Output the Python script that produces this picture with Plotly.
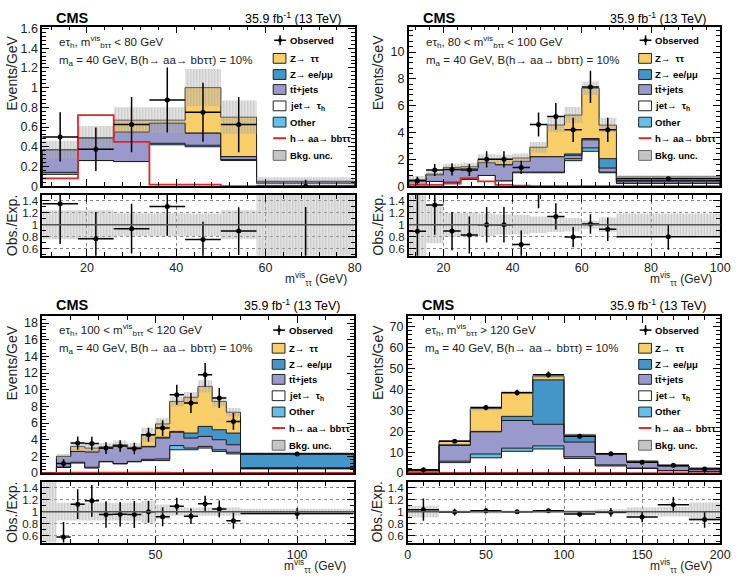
import plotly.graph_objects as go

W, H = 743, 579
FONT = "Liberation Sans, Arial, Helvetica, sans-serif"

C_ZTT, C_ZEE, C_TT, C_JET, C_OTH = "#F8CE68", "#4496C8", "#9999CC", "#FFFFFF", "#64C0E8"
C_SIG = "#E0262B"

# ---------------- Panel 1: m_btt^vis < 80 GeV ----------------
p1_edges = [10, 18, 26, 34, 42, 50, 58, 80]
p1_jet = [0.12, 0.26, 0.25, 0.42, 0.40, 0.26, 0.03]
p1_other = [0.02, 0.0, 0.0, 0.015, 0.015, 0.01, 0.0]
p1_tt = [0.23, 0.23, 0.30, 0.205, 0.125, 0.03, 0.015]
p1_zee = [0, 0, 0, 0, 0, 0, 0]
p1_ztt = [0, 0, 0.12, 0.03, 0.46, 0.40, 0.005]
p1_unc = [0.09, 0.12, 0.13, 0.13, 0.19, 0.17, 0.04]
p1_sig = [0.08, 0.72, 0.45, 0.015, 0.015, 0.0, 0.0]
p1_obs = [0.5, 0.375, 0.625, 0.875, 0.75, 0.625, 0.0]
p1_err = [0.25, 0.22, 0.28, 0.33, 0.30, 0.28, 0.065]

# ---------------- Panel 2: 80 < m_btt^vis < 100 GeV ----------------
p2_edges = [10, 15, 20, 25, 30, 35, 40, 45, 50, 55, 60, 65, 70, 100]
p2_jet = [0.12, 0.35, 0.3, 0.5, 0.8, 0.4, 1.0, 1.0, 1.0, 1.9, 2.6, 1.0, 0.2]
p2_other = [0, 0, 0, 0, 0, 0, 0.05, 0.05, 0.05, 0.15, 0.25, 0.05, 0.02]
p2_tt = [0.33, 0.5, 0.95, 0.82, 0.95, 1.2, 0.8, 1.15, 1.15, 0.25, 0.6, 0.3, 0.15]
p2_zee = [0, 0, 0, 0, 0, 0, 0, 0, 0, 0.1, 0.1, 0.7, 0.05]
p2_ztt = [0, 0.05, 0.15, 0.13, 0.25, 0.4, 0.25, 0.7, 2.36, 2.9, 3.75, 2.5, 0.27]
p2_unc = [0.3, 0.28, 0.28, 0.29, 0.38, 0.34, 0.34, 0.4, 0.55, 0.6, 0.5, 0.55, 0.13]
p2_sig = [0.1, 0.1, 0.2, 0.6, 0.35, 0.1, 0.03, 0, 0, 0, 0, 0, 0]
p2_obs = [0.4, 1.2, 1.25, 1.2, 2.0, 2.0, 1.4, 4.6, 5.2, 4.2, 7.4, 4.2, 0.55]
p2_err = [0.3, 0.45, 0.45, 0.45, 0.6, 0.6, 0.5, 0.9, 1.0, 0.9, 1.2, 0.9, 0.15]

# ---------------- Panel 3: 100 < m_btt^vis < 120 GeV ----------------
p3_edges = [10, 15, 20, 25, 30, 35, 40, 45, 50, 55, 60, 65, 70, 75, 80, 120]
p3_jet = [0, 0.67, 1.2, 0.6, 1.35, 1.1, 1.35, 1.5, 1.5, 2.8, 2.8, 3.0, 2.6, 2.3, 0.5]
p3_other = [0, 0.05, 0.1, 0.1, 0.05, 0.05, 0.05, 0.15, 0.2, 0.5, 0.2, 0.2, 0.2, 0.2, 0.05]
p3_tt = [0, 1.28, 1.3, 1.85, 1.6, 2.15, 1.6, 1.5, 2.5, 1.6, 1.2, 1.2, 1.2, 0.9, 0.1]
p3_zee = [0, 0, 0, 0, 0, 0, 0, 0.05, 0.1, 0.1, 0.6, 1.2, 1.2, 1.4, 1.7]
p3_ztt = [0, 0, 0.6, 0.45, 0.15, 0.1, 0.1, 1.4, 1.6, 3.6, 4.3, 4.8, 3.4, 2.5, 0.02]
p3_unc = [0, 0.3, 0.48, 0.45, 0.47, 0.5, 0.47, 0.85, 0.7, 0.6, 0.64, 0.73, 0.6, 0.5, 0.12]
p3_sig = [0, 0.03, 0.05, 0.05, 0.05, 0.05, 0.05, 0.05, 0.04, 0.03, 0.03, 0.03, 0.02, 0.02, 0.01]
p3_obs = [None, 1.15, 3.6, 3.55, 3.0, 3.25, 2.95, 4.6, 5.4, 9.4, 8.4, 11.8, 9.0, 6.2, 2.3]
p3_err = [None, 0.5, 0.8, 0.8, 0.7, 0.7, 0.7, 0.85, 0.95, 1.2, 1.2, 1.4, 1.2, 1.0, 0.22]

# ---------------- Panel 4: m_btt^vis > 120 GeV ----------------
p4_edges = [0, 20, 40, 60, 80, 100, 120, 140, 160, 180, 200]
p4_jet = [0.3, 5.0, 7.3, 10.4, 11.5, 7.0, 3.4, 2.2, 1.1, 0.8]
p4_other = [0.1, 0.7, 1.8, 1.5, 1.5, 0.8, 0.5, 0.2, 0.1, 0.05]
p4_tt = [1.1, 7.5, 10.6, 13.2, 10.3, 7.0, 5.2, 3.2, 2.1, 1.4]
p4_zee = [0.0, 0.3, 0.2, 2.0, 21.2, 3.2, 0.1, 0.05, 0.05, 0.02]
p4_ztt = [0.0, 1.8, 10.9, 11.4, 1.8, 0.3, 0.1, 0.05, 0.05, 0.03]
p4_unc = [0.15, 0.3, 0.9, 0.8, 0.9, 0.55, 0.37, 0.4, 0.27, 0.35]
p4_sig = [0.05, 0.1, 0.1, 0.1, 0.1, 0.05, 0.05, 0.02, 0.02, 0.02]
p4_obs = [1.55, 15.2, 31.3, 38.4, 47.0, 17.6, 9.2, 5.2, 3.8, 2.0]
p4_err = [0.28, 0.87, 1.25, 1.39, 1.53, 0.94, 0.68, 0.51, 0.44, 0.32]

panel_labels = [
    "eτ<sub>h</sub>, m<sup>vis</sup><sub>bττ</sub> &lt; 80 GeV",
    "eτ<sub>h</sub>, 80 &lt; m<sup>vis</sup><sub>bττ</sub> &lt; 100 GeV",
    "eτ<sub>h</sub>, 100 &lt; m<sup>vis</sup><sub>bττ</sub> &lt; 120 GeV",
    "eτ<sub>h</sub>, m<sup>vis</sup><sub>bττ</sub> &gt; 120 GeV",
]
model_label = "m<sub>a</sub> = 40 GeV, B(h→ aa→ bbττ) = 10%"
legend_labels = ["Observed", "Z→  ττ", "Z→ ee/μμ", "tt̄+jets", "jet→  τ<sub>h</sub>",
                 "Other", "h→ aa→ bbττ", "Bkg. unc."]

panels = [
    dict(edges=p1_edges, comps=[p1_jet, p1_other, p1_tt, p1_zee, p1_ztt], unc=p1_unc,
         sig=p1_sig, obs=p1_obs, err=p1_err, xr=[10, 80], yr=[0, 1.62], ydt=0.2, ymin=0.04,
         xdt=20, xmin=4),
    dict(edges=p2_edges, comps=[p2_jet, p2_other, p2_tt, p2_zee, p2_ztt], unc=p2_unc,
         sig=p2_sig, obs=p2_obs, err=p2_err, xr=[10, 100], yr=[0, 11.9], ydt=2, ymin=0.4,
         xdt=20, xmin=4),
    dict(edges=p3_edges, comps=[p3_jet, p3_other, p3_tt, p3_zee, p3_ztt], unc=p3_unc,
         sig=p3_sig, obs=p3_obs, err=p3_err, xr=[10, 120], yr=[0, 18.8], ydt=2, ymin=0.4,
         xdt=50, xmin=10),
    dict(edges=p4_edges, comps=[p4_jet, p4_other, p4_tt, p4_zee, p4_ztt], unc=p4_unc,
         sig=p4_sig, obs=p4_obs, err=p4_err, xr=[0, 200], yr=[0, 74.8], ydt=10, ymin=2,
         xdt=50, xmin=10),
]
comp_colors = [C_JET, C_OTH, C_TT, C_ZEE, C_ZTT]

# pixel geometry: left, right, main top, main bottom, ratio top, ratio bottom
geom = [
    (40, 358, 22, 185, 194, 256),
    (413, 730, 22, 185, 194, 256),
    (40, 357, 318, 478, 487, 549),
    (412, 730, 318, 478, 487, 549),
]
RATIO_RANGE = [0.48, 1.5]


def X(px):
    return px / W


def Y(py):
    return 1 - py / H


def aid(i):
    return "" if i == 1 else str(i)


def step_xy(edges, vals):
    n = len(vals)
    xs = [edges[0]] + list(edges[:n]) + [edges[n], edges[n]]
    ys = [0] + list(vals) + [vals[-1], 0]
    return xs, ys


def box_xy(edges, lo, hi):
    xs, ys = [], []
    for i in range(len(lo)):
        l, r = edges[i], edges[i + 1]
        xs += [l, r, r, l, l, None]
        ys += [lo[i], lo[i], hi[i], hi[i], lo[i], None]
    return xs, ys


UNC_FILL = "rgba(170,170,170,0.45)"
UNC_PAT = dict(shape="|", fgcolor="rgba(115,115,115,0.5)", bgcolor="rgba(185,185,185,0.40)",
               size=3, solidity=0.35)

fig = go.Figure()
layout = {}
shapes = []
annotations = []

tickfont = dict(family=FONT, size=12.5, color="#222")
rtickfont = dict(family=FONT, size=11.5, color="#222")

for k, (p, g) in enumerate(zip(panels, geom)):
    im, ir = 2 * k + 1, 2 * k + 2
    xm, ym, xr_, yr_ = "x" + aid(im), "y" + aid(im), "x" + aid(ir), "y" + aid(ir)
    left, right, mt, mb, rt, rb = g
    edges = p["edges"]
    nb = len(edges) - 1
    centers = [(edges[i] + edges[i + 1]) / 2 for i in range(nb)]
    halfw = [(edges[i + 1] - edges[i]) / 2 for i in range(nb)]

    # stacked backgrounds
    cum = [0.0] * nb
    for j, (vals, col) in enumerate(zip(p["comps"], comp_colors)):
        cum = [c + v for c, v in zip(cum, vals)]
        xs, ys = step_xy(edges, cum)
        fig.add_trace(go.Scatter(x=xs, y=ys, xaxis=xm, yaxis=ym, mode="lines",
                                 line=dict(color="#1a1a1a", width=1, shape="hv"),
                                 fill="tozeroy" if j == 0 else "tonexty", fillcolor=col,
                                 hoverinfo="skip", showlegend=False))
    total = cum

    # background uncertainty band
    lo = [t - u for t, u in zip(total, p["unc"])]
    hi = [t + u for t, u in zip(total, p["unc"])]
    bx, by = box_xy(edges, lo, hi)
    fig.add_trace(go.Scatter(x=bx, y=by, xaxis=xm, yaxis=ym, mode="lines", line=dict(width=0),
                             fill="toself", fillcolor=UNC_FILL, fillpattern=UNC_PAT,
                             hoverinfo="skip", showlegend=False))

    # signal
    fig.add_trace(go.Scatter(x=edges, y=list(p["sig"]) + [p["sig"][-1]], xaxis=xm, yaxis=ym,
                             mode="lines", line=dict(color=C_SIG, width=1.8, shape="hv"),
                             hoverinfo="skip", showlegend=False))

    # observed
    ox = [c for c, o in zip(centers, p["obs"]) if o is not None]
    ow = [h for h, o in zip(halfw, p["obs"]) if o is not None]
    oy = [o for o in p["obs"] if o is not None]
    oe = [e for e, o in zip(p["err"], p["obs"]) if o is not None]
    fig.add_trace(go.Scatter(x=ox, y=oy, xaxis=xm, yaxis=ym, mode="markers",
                             marker=dict(color="black", size=5),
                             error_y=dict(type="data", array=oe, color="black", thickness=1.5, width=0),
                             error_x=dict(type="data", array=ow, color="black", thickness=1.5, width=0),
                             showlegend=False))

    # ratio band
    rel = [u / t if t > 0 else 2.0 for u, t in zip(p["unc"], total)]
    rlo = [1 - r for r in rel]
    rhi = [1 + r for r in rel]
    bx, by = box_xy(edges, rlo, rhi)
    fig.add_trace(go.Scatter(x=bx, y=by, xaxis=xr_, yaxis=yr_, mode="lines", line=dict(width=0),
                             fill="toself", fillcolor=UNC_FILL, fillpattern=UNC_PAT,
                             hoverinfo="skip", showlegend=False))
    shapes.append(dict(type="line", xref=xr_ + " domain", yref=yr_, x0=0, x1=1, y0=1, y1=1,
                       line=dict(color="#555", width=1.5), layer="above"))
    rx, ry, re_, rw = [], [], [], []
    for c, h, o, e, t in zip(centers, halfw, p["obs"], p["err"], total):
        if o is None or t <= 0:
            continue
        rx.append(c)
        ry.append(o / t)
        re_.append(e / t)
        rw.append(h)
    fig.add_trace(go.Scatter(x=rx, y=ry, xaxis=xr_, yaxis=yr_, mode="markers",
                             marker=dict(color="black", size=5),
                             error_y=dict(type="data", array=re_, color="black", thickness=1.5, width=0),
                             error_x=dict(type="data", array=rw, color="black", thickness=1.5, width=0),
                             showlegend=False))

    common = dict(showline=True, linecolor="black", linewidth=1.6, mirror="allticks",
                  ticks="inside", ticklen=7, tickwidth=1, tickcolor="black",
                  zeroline=False, tickfont=tickfont)
    xdom = [X(left), X(right)]
    layout["xaxis" + aid(im)] = dict(common, domain=xdom, range=p["xr"], anchor=ym,
                                     showticklabels=False, dtick=p["xdt"], tick0=0,
                                     showgrid=False,
                                     minor=dict(ticks="inside", ticklen=4, dtick=p["xmin"],
                                                tickcolor="black", showgrid=False))
    layout["yaxis" + aid(im)] = dict(common, domain=[Y(mb), Y(mt)], range=p["yr"], anchor=xm,
                                     dtick=p["ydt"], tick0=0, showgrid=False,
                                     minor=dict(ticks="inside", ticklen=4, dtick=p["ymin"],
                                                tickcolor="black", showgrid=False))
    layout["xaxis" + aid(ir)] = dict(common, domain=xdom, range=p["xr"], anchor=yr_,
                                     dtick=p["xdt"], tick0=0, showgrid=True, gridcolor="#888",
                                     griddash="dot", gridwidth=1,
                                     minor=dict(ticks="inside", ticklen=4, dtick=p["xmin"],
                                                tickcolor="black", showgrid=False))
    layout["yaxis" + aid(ir)] = dict(common, domain=[Y(rb), Y(rt)], range=RATIO_RANGE, anchor=xr_,
                                     tickvals=[0.6, 0.8, 1.0, 1.2, 1.4],
                                     ticktext=["0.6", "0.8", "1", "1.2", "1.4"],
                                     tickfont=rtickfont,
                                     showgrid=True, gridcolor="#888", griddash="dot", gridwidth=1,
                                     minor=dict(ticks="inside", ticklen=4, dtick=0.1,
                                                tickcolor="black", showgrid=False))

    # texts
    top_text_y = 13 if k < 2 else 306
    annotations.append(dict(x=X(left + 12), y=Y(top_text_y), xref="paper", yref="paper",
                            text="<b>CMS</b>", showarrow=False, xanchor="left", yanchor="middle",
                            font=dict(family=FONT, size=14.5, color="black")))
    annotations.append(dict(x=X(right - 11), y=Y(top_text_y), xref="paper", yref="paper",
                            text="35.9 fb<sup>-1</sup> (13 TeV)", showarrow=False,
                            xanchor="right", yanchor="middle",
                            font=dict(family=FONT, size=12.5, color="black")))
    l1y = mt + 16 if k < 2 else mt + 14
    annotations.append(dict(x=X(left + 15), y=Y(l1y), xref="paper", yref="paper",
                            text=panel_labels[k], showarrow=False, xanchor="left",
                            yanchor="middle", font=dict(family=FONT, size=11.5, color="#222")))
    annotations.append(dict(x=X(left + 15), y=Y(l1y + 19), xref="paper", yref="paper",
                            text=model_label, showarrow=False, xanchor="left",
                            yanchor="middle", font=dict(family=FONT, size=11.5, color="#222")))
    ty = rb + 24
    annotations.append(dict(x=X(right - 6), y=Y(ty), xref="paper", yref="paper",
                            text="m<sup>vis</sup><sub>ττ</sub> (GeV)", showarrow=False,
                            xanchor="right", yanchor="middle",
                            font=dict(family=FONT, size=12, color="#222")))
    ytx = left - 31
    annotations.append(dict(x=X(ytx), y=Y(mt + 7), xref="paper", yref="paper",
                            text="Events/GeV", textangle=-90, showarrow=False,
                            xanchor="center", yanchor="top",
                            font=dict(family=FONT, size=14, color="#222")))
    annotations.append(dict(x=X(ytx), y=Y((rt + rb) / 2), xref="paper", yref="paper",
                            text="Obs./Exp.", textangle=-90, showarrow=False,
                            xanchor="center", yanchor="middle",
                            font=dict(family=FONT, size=14, color="#222")))

    # manual legend
    bxp = right - 83
    y0 = mt + 14
    offs = [0, 18.5, 35, 50.3, 67, 83.6, 100, 117.6]
    rows = [y0 + o for o in offs]
    for i, lab in enumerate(legend_labels):
        annotations.append(dict(x=X(bxp + 15), y=Y(rows[i]), xref="paper", yref="paper",
                                text="<b>" + lab + "</b>", showarrow=False, xanchor="left",
                                yanchor="middle",
                                font=dict(family=FONT, size=9.5, color="black")))
    # observed glyph
    cy = rows[0]
    shapes.append(dict(type="line", xref="paper", yref="paper", x0=X(bxp + 1), x1=X(bxp + 13),
                       y0=Y(cy), y1=Y(cy), line=dict(color="black", width=1.5)))
    shapes.append(dict(type="line", xref="paper", yref="paper", x0=X(bxp + 7), x1=X(bxp + 7),
                       y0=Y(cy - 5), y1=Y(cy + 5), line=dict(color="black", width=1.5)))
    shapes.append(dict(type="circle", xref="paper", yref="paper", x0=X(bxp + 5), x1=X(bxp + 9),
                       y0=Y(cy - 2), y1=Y(cy + 2), fillcolor="black", line=dict(width=0)))
    for i, col in zip([1, 2, 3, 4, 5], [C_ZTT, C_ZEE, C_TT, C_JET, C_OTH]):
        cy = rows[i]
        shapes.append(dict(type="rect", xref="paper", yref="paper", x0=X(bxp), x1=X(bxp + 13),
                           y0=Y(cy + 5), y1=Y(cy - 5), fillcolor=col,
                           line=dict(color="#222", width=1)))
    cy = rows[6]
    shapes.append(dict(type="line", xref="paper", yref="paper", x0=X(bxp), x1=X(bxp + 13),
                       y0=Y(cy), y1=Y(cy), line=dict(color=C_SIG, width=2)))
    cy = rows[7]
    shapes.append(dict(type="rect", xref="paper", yref="paper", x0=X(bxp), x1=X(bxp + 13),
                       y0=Y(cy + 5), y1=Y(cy - 5), fillcolor="#c4c4c4",
                       line=dict(color="#666", width=1)))

fig.update_layout(width=W, height=H, margin=dict(l=0, r=0, t=0, b=0),
                  paper_bgcolor="white", plot_bgcolor="white", showlegend=False,
                  font=dict(family=FONT), shapes=shapes, annotations=annotations, **layout)
fig.write_html("out.html")
